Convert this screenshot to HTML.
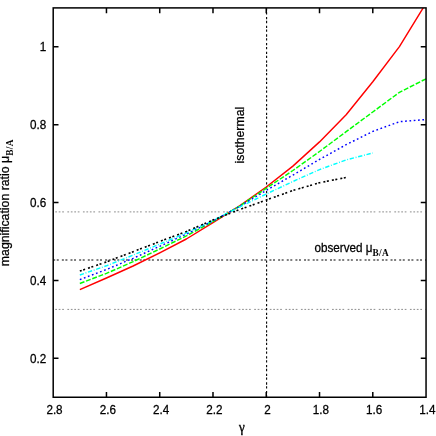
<!DOCTYPE html>
<html><head><meta charset="utf-8"><title>chart</title>
<style>html,body{margin:0;padding:0;background:#fff;}svg{display:block;will-change:transform}</style>
</head><body>
<svg width="436" height="436" viewBox="0 0 436 436">
<rect width="436" height="436" fill="#fff"/>
<path d="M53.2,211.9 H426.05" stroke="#8c8c8c" stroke-width="1.0" fill="none" stroke-dasharray="1.73,1.73,1.73,1.73,1.73,1.73,1.73,3.46" stroke-dashoffset="1.4"/>
<path d="M53.2,309.4 H426.05" stroke="#8c8c8c" stroke-width="1.0" fill="none" stroke-dasharray="1.73,1.73,1.73,1.73,1.73,1.73,1.73,3.46" stroke-dashoffset="1.4"/>
<path d="M53.2,260.0 H426.05" stroke="#000" stroke-width="1.1" fill="none" stroke-dasharray="2.0,1.55,2.0,3.1"/>
<path d="M266.6,397.25 V7.9" stroke="#000" stroke-width="1.1" fill="none" stroke-dasharray="2.3,1.6,2.3,2.5"/>
<defs><clipPath id="c"><rect x="53.2" y="7.9" width="372.85" height="389.35"/></clipPath></defs>
<g fill="none" stroke-width="1.45" stroke-linejoin="round" clip-path="url(#c)">
<path d="M79.83,289.65 L106.46,278.00 L133.10,266.00 L159.73,252.80 L186.36,239.00 L212.99,222.70 L239.62,205.90 L266.26,187.00 L292.89,166.10 L319.52,141.90 L346.15,114.70 L372.79,81.70 L399.42,46.60 L426.05,3.20" stroke="#ff0000"/>
<path d="M79.83,283.50 L106.46,273.40 L133.10,261.70 L159.73,249.00 L186.36,235.90 L212.99,221.60 L239.62,206.10 L266.26,188.30 L292.89,170.50 L319.52,151.50 L346.15,131.70 L372.79,112.00 L399.42,92.30 L426.05,78.80" stroke="#00ff00" stroke-dasharray="4.9,1.75"/>
<path d="M79.83,279.60 L106.46,269.50 L133.10,258.30 L159.73,246.30 L186.36,234.10 L212.99,221.00 L239.62,206.40 L266.26,190.40 L292.89,175.10 L319.52,159.40 L346.15,144.70 L372.79,131.40 L399.42,121.70 L426.05,119.50" stroke="#0000ff" stroke-dasharray="1.73,2.59"/>
<path d="M79.83,275.00 L106.46,265.80 L133.10,255.10 L159.73,244.10 L186.36,232.90 L212.99,220.50 L239.62,207.00 L266.26,194.00 L292.89,181.50 L319.52,169.60 L346.15,159.90 L372.79,153.00" stroke="#00ffff" stroke-dasharray="4.33,1.73,0.86,1.73"/>
<path d="M79.83,271.10 L106.46,261.90 L133.10,251.70 L159.73,241.50 L186.36,231.50 L212.99,220.00 L239.62,209.60 L266.26,200.00 L292.89,190.50 L319.52,182.75 L346.15,177.45" stroke="#000" stroke-width="1.6" stroke-dasharray="2.0,1.55,2.0,3.1"/>
</g>
<rect x="53.2" y="7.9" width="372.85" height="389.35" fill="none" stroke="#000" stroke-width="1.5"/>
<path d="M106.46,397.25 v-5.3 M106.46,7.9 v5.3 M159.73,397.25 v-5.3 M159.73,7.9 v5.3 M212.99,397.25 v-5.3 M212.99,7.9 v5.3 M266.26,397.25 v-5.3 M266.26,7.9 v5.3 M319.52,397.25 v-5.3 M319.52,7.9 v5.3 M372.79,397.25 v-5.3 M372.79,7.9 v5.3 M53.2,358.31 h5.3 M426.05,358.31 h-5.3 M53.2,280.44 h5.3 M426.05,280.44 h-5.3 M53.2,202.57 h5.3 M426.05,202.57 h-5.3 M53.2,124.70 h5.3 M426.05,124.70 h-5.3 M53.2,46.83 h5.3 M426.05,46.83 h-5.3" stroke="#000" stroke-width="1.5" fill="none"/>
<g font-family="Liberation Sans, sans-serif" font-size="11.7px" fill="#000" stroke="#000" stroke-width="0.25">
<text transform="translate(54.50,413.9) scale(1,1.12)" text-anchor="middle">2.8</text>
<text transform="translate(107.76,413.9) scale(1,1.12)" text-anchor="middle">2.6</text>
<text transform="translate(161.03,413.9) scale(1,1.12)" text-anchor="middle">2.4</text>
<text transform="translate(214.29,413.9) scale(1,1.12)" text-anchor="middle">2.2</text>
<text transform="translate(267.56,413.9) scale(1,1.12)" text-anchor="middle">2</text>
<text transform="translate(320.82,413.9) scale(1,1.12)" text-anchor="middle">1.8</text>
<text transform="translate(374.09,413.9) scale(1,1.12)" text-anchor="middle">1.6</text>
<text transform="translate(427.35,413.9) scale(1,1.12)" text-anchor="middle">1.4</text>
<text transform="translate(46.3,362.92) scale(1,1.12)" text-anchor="end">0.2</text>
<text transform="translate(46.3,285.05) scale(1,1.12)" text-anchor="end">0.4</text>
<text transform="translate(46.3,207.17) scale(1,1.12)" text-anchor="end">0.6</text>
<text transform="translate(46.3,129.30) scale(1,1.12)" text-anchor="end">0.8</text>
<text transform="translate(46.3,51.43) scale(1,1.12)" text-anchor="end">1</text>
<text transform="translate(314.4,252.4) scale(1,1.12)">observed μ<tspan font-family="Liberation Serif, serif" font-weight="bold" stroke="none" font-size="9.3px" dx="0.1" dy="3.6" letter-spacing="0.35">B/A</tspan></text>
<text transform="translate(244.3,163.5) rotate(-90) scale(1,1.08)" font-size="12.3px">isothermal</text>
<text transform="translate(8.9,266.2) rotate(-90) scale(1,1.08)" font-size="12.3px">magnification ratio μ<tspan font-family="Liberation Serif, serif" font-weight="bold" stroke="none" font-size="9.3px" dx="0.1" dy="3.6" letter-spacing="0.35">B/A</tspan></text>
<text transform="translate(241.8,431.5) scale(1,1.05)" text-anchor="middle" font-family="Liberation Serif, serif" font-size="13px" stroke-width="0.35">γ</text>
</g>
</svg>
</body></html>
